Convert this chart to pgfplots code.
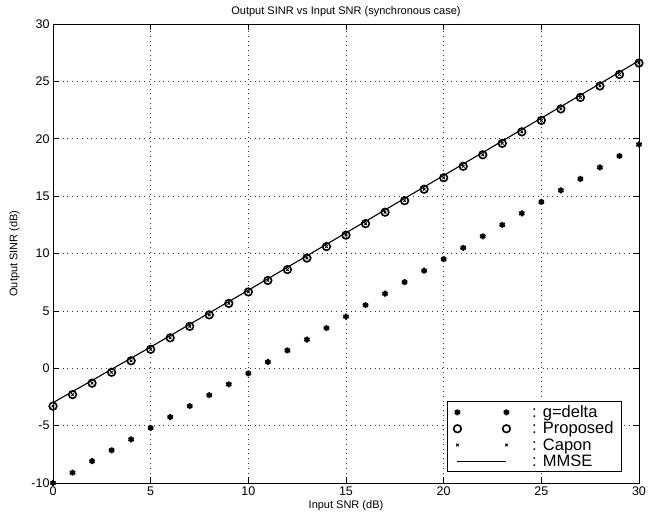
\documentclass[border=0pt]{standalone}
\usepackage{pgfplots}
\pgfplotsset{compat=1.18}
\usepackage{fontspec}
\setmainfont{Liberation Sans}

\pgfplotsset{
  twomarks/.style={legend image code/.code={%
    \draw[##1] plot coordinates {(0pt,0pt) (49pt,0pt)};}},
}

\begin{document}
\begin{tikzpicture}
\begin{axis}[
  scale only axis, width=586pt, height=459pt,
  xmin=0, xmax=30, ymin=-10, ymax=30,
  xtick={0,5,...,30}, ytick={-10,-5,...,30},
  grid=major, grid style={black!80, line width=0.6pt, dash pattern=on 0.8pt off 4pt},
  axis line style={line width=0.9pt},
  tick style={black, line width=0.7pt}, major tick length=6pt,
  tick label style={font=\fontsize{12.5}{14}\selectfont},
  /pgf/number format/assume math mode=true,
  title={Output SINR vs Input SNR (synchronous case)},
  title style={font=\fontsize{11}{13}\selectfont, yshift=-2pt},
  xlabel={Input SNR (dB)}, ylabel={Output SINR (dB)},
  label style={font=\fontsize{11}{13}\selectfont},
  xlabel style={yshift=2pt}, ylabel style={yshift=5pt},
  legend style={font=\fontsize{16.5}{17}\selectfont, at={(0.971,0.024)}, anchor=south east,
    draw=black, line width=0.9pt, fill=white, row sep=-1pt,
    inner xsep=6pt, inner ysep=2pt},
  legend cell align=left,
]
\addplot[only marks, mark=asterisk, mark size=3pt, line width=1.9pt, twomarks]
  coordinates {(0,-10) (1,-9.1) (2,-8.1) (3,-7.15) (4,-6.2) (5,-5.2) (6,-4.25) (7,-3.3)
  (8,-2.35) (9,-1.4) (10,-0.45) (11,0.55) (12,1.55) (13,2.5) (14,3.5) (15,4.5) (16,5.5)
  (17,6.5) (18,7.5) (19,8.5) (20,9.5) (21,10.5) (22,11.5) (23,12.5) (24,13.5) (25,14.5)
  (26,15.5) (27,16.5) (28,17.5) (29,18.5) (30,19.5)};
\addlegendentry{\hspace{20pt}: g=delta}
\addplot[only marks, mark=o, mark size=3.8pt, line width=1.6pt, twomarks]
  coordinates {(0,-3.3) (1,-2.3) (2,-1.3) (3,-0.35) (4,0.65) (5,1.65) (6,2.65) (7,3.65)
  (8,4.65) (9,5.65) (10,6.65) (11,7.65) (12,8.6) (13,9.6) (14,10.6) (15,11.6) (16,12.6)
  (17,13.6) (18,14.6) (19,15.6) (20,16.6) (21,17.6) (22,18.6) (23,19.6) (24,20.6)
  (25,21.6) (26,22.6) (27,23.6) (28,24.6) (29,25.6) (30,26.6)};
\addlegendentry{\hspace{20pt}: Proposed\hspace{14pt}}
\addplot[only marks, mark=x, mark size=1.8pt, line width=0.9pt, twomarks]
  coordinates {(0,-3.3) (1,-2.3) (2,-1.3) (3,-0.35) (4,0.65) (5,1.65) (6,2.65) (7,3.65)
  (8,4.65) (9,5.65) (10,6.65) (11,7.65) (12,8.6) (13,9.6) (14,10.6) (15,11.6) (16,12.6)
  (17,13.6) (18,14.6) (19,15.6) (20,16.6) (21,17.6) (22,18.6) (23,19.6) (24,20.6)
  (25,21.6) (26,22.6) (27,23.6) (28,24.6) (29,25.6) (30,26.6)};
\addlegendentry{\hspace{20pt}: Capon}
\addplot[black, line width=1.1pt,
  legend image code/.code={\draw[black, line width=0.6pt] (0pt,0pt) -- (49pt,0pt);}]
  coordinates {(0,-3.0) (5,1.85) (10,6.8) (15,11.8) (20,16.8) (25,21.8) (30,26.8)};
\addlegendentry{\hspace{20pt}: MMSE}
\end{axis}
\path[use as bounding box] (-53pt,-38pt) rectangle (614pt,483pt);
\end{tikzpicture}
\end{document}
